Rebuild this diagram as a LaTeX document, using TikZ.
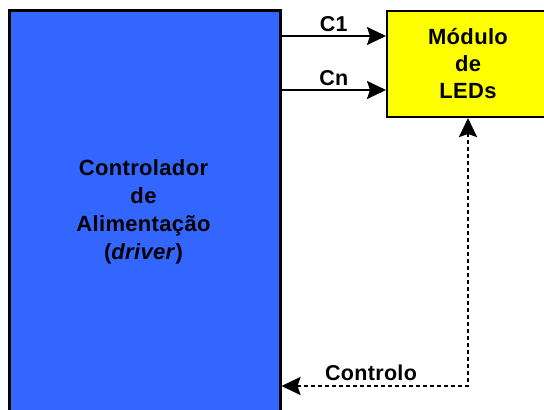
\documentclass[tikz,border=0pt]{standalone}
\usepackage{fontspec}
\setmainfont{Liberation Sans}
\newfontfamily\blkfont[LetterSpace=1.5]{Liberation Sans}
\usetikzlibrary{arrows.meta,positioning,calc}
\definecolor{drvblue}{RGB}{51,102,255}
\definecolor{ledyellow}{RGB}{255,255,0}
\tikzset{
  drvbox/.style={rectangle, draw=black, line width=2.5pt, fill=drvblue, anchor=north west,
                 minimum width=271pt, minimum height=430pt, align=center, inner sep=0pt},
  ledbox/.style={rectangle, draw=black, line width=2pt, fill=ledyellow, anchor=north west,
                 minimum width=162pt, minimum height=106pt, align=center, inner sep=0pt,
                 font=\blkfont\fontsize{22}{27}\selectfont\bfseries},
  blktxt/.style={align=center, font=\blkfont\fontsize{22}{28}\selectfont\bfseries},
  ar/.style={-{Stealth[length=19pt,width=18pt,inset=3pt]}, line width=2pt},
  arl/.style={{Stealth[length=19pt,width=18pt,inset=3pt]}-{Stealth[length=19pt,width=18pt,inset=3pt]},
              line width=2.5pt, dash pattern=on 4pt off 3pt},
  lbl/.style={font=\blkfont\fontsize{21.5}{24}\selectfont\bfseries},
}

\begin{document}
\begin{tikzpicture}[x=1pt,y=-1pt]
\useasboundingbox (0,0) rectangle (544,410);

% ================= blocks =================
\node[drvbox] (drv) at (8,9) {};
\node[blktxt] (drvtxt) at (143.5,212)
  {Controlador\\de\\Alimentação\\(\textit{driver})};
\node[ledbox] (leds) at (386,10) {Módulo\\de\\LEDs};

% ================= connectors =================
\draw[ar] ([yshift=-27pt]drv.north east) -- node[lbl, above=0pt] (c1) {C1}
  ([yshift=-26pt]leds.north west);
\draw[ar] ([yshift=-81pt]drv.north east) -- node[lbl, above=0pt] (cn) {Cn}
  ([yshift=-80pt]leds.north west);
\draw[arl] (leds.south) |- node[lbl, pos=0.76, above=1pt] (ctl) {Controlo}
  ([yshift=-377pt]drv.north east);

\end{tikzpicture}
\end{document}
